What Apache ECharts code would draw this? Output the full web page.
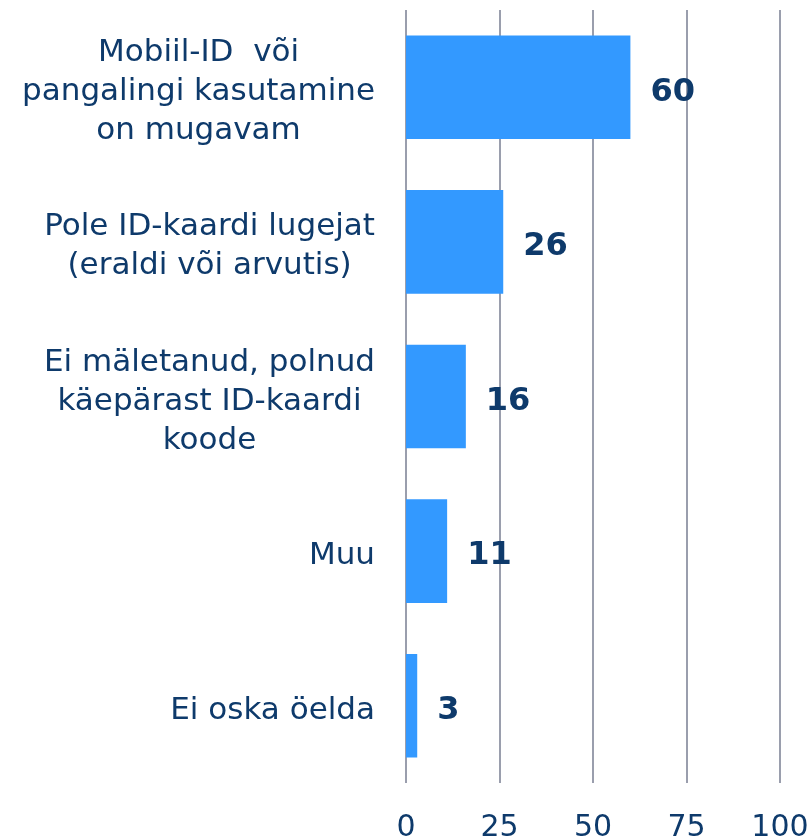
<!DOCTYPE html>
<html>
<head>
<meta charset="utf-8">
<script src="https://cdn.jsdelivr.net/npm/echarts@6/dist/echarts.min.js"></script>
<style>
html,body{margin:0;padding:0;background:#fff;overflow:hidden;}
#chart{width:812px;height:839px;}
</style>
</head>
<body>
<div id="chart"></div>
<script>
// Reasons categories (top to bottom) and their shares, %
const categories = [
  'Mobiil-ID  või\npangalingi kasutamine\non mugavam',
  'Pole ID-kaardi lugejat\n(eraldi või arvutis)',
  'Ei mäletanud, polnud\nkäepärast ID-kaardi\nkoode',
  'Muu',
  'Ei oska öelda'
];
const values = [60, 26, 16, 11, 3];
const tickValues = [0, 25, 50, 75, 100];

const navy = '#0E3A6B';
const chart = echarts.init(document.getElementById('chart'), null, {renderer: 'canvas'});
chart.setOption({
  backgroundColor: '#ffffff',
  animation: false,
  grid: {left: 406, right: 32, top: 10, bottom: 56, containLabel: false, outerBoundsMode: 'none'},
  xAxis: {
    type: 'value',
    min: tickValues[0],
    max: tickValues[tickValues.length - 1],
    interval: 25,
    axisLine: {show: false},
    axisTick: {show: false},
    splitLine: {show: true, lineStyle: {color: '#9A9EAD', width: 2}},
    axisLabel: {
      color: navy,
      fontFamily: 'DejaVu Sans',
      fontSize: 30,
      margin: 30
    }
  },
  yAxis: {
    type: 'category',
    data: categories,
    inverse: true,
    axisLine: {show: false},
    axisTick: {show: false},
    axisLabel: {
      align: 'right',
      margin: 31,
      padding: [10, 0, 0, 0],
      // each line centred within the right-aligned label block
      formatter: v => v.split('\n').map(s => '{c|' + s + '}').join('\n'),
      rich: {
        c: {
          color: navy,
          fontFamily: 'DejaVu Sans',
          fontSize: 31,
          lineHeight: 39,
          align: 'center'
        }
      }
    }
  },
  series: [{
    type: 'bar',
    data: values,
    barCategoryGap: '33%',
    itemStyle: {color: '#3399FF'},
    label: {
      show: true,
      position: 'right',
      distance: 20,
      offset: [0, 5],
      color: navy,
      fontFamily: 'DejaVu Sans',
      fontWeight: 'bold',
      fontSize: 32
    }
  }]
});
</script>
</body>
</html>
